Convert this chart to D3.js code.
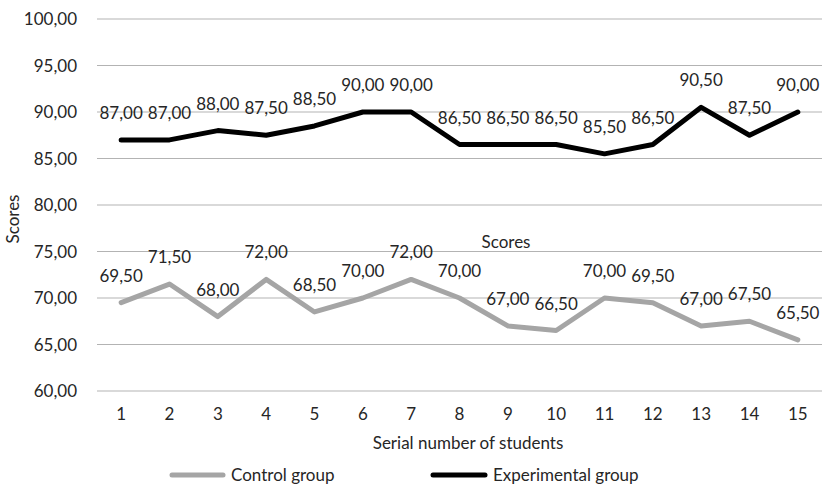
<!DOCTYPE html>
<html>
<head>
<meta charset="utf-8">
<script src="https://cdn.jsdelivr.net/npm/d3@7"></script>
<style>
  html, body { margin: 0; padding: 0; background: #fff; }
  svg text { font-family: Lato, "Open Sans", sans-serif; fill: #262626; }
</style>
</head>
<body>
<svg id="chart" width="828" height="485"></svg>
<script>
// Student serial numbers and score series
const students = ["1","2","3","4","5","6","7","8","9","10","11","12","13","14","15"];
const controlScores = [69.5, 71.5, 68, 72, 68.5, 70, 72, 70, 67, 66.5, 70, 69.5, 67, 67.5, 65.5];
const experimentalScores = [87, 87, 88, 87.5, 88.5, 90, 90, 86.5, 86.5, 86.5, 85.5, 86.5, 90.5, 87.5, 90];
const yTicks = [60, 65, 70, 75, 80, 85, 90, 95, 100];

const series = [
  { name: "Control group", values: controlScores, color: "#a5a5a5" },
  { name: "Experimental group", values: experimentalScores, color: "#000000" }
];

const svg = d3.select("#chart");
const margin = { left: 97, right: 6, top: 19, bottom: 94 };
const W = 828, H = 485;
const FS = "17px";

const x = d3.scaleBand().domain(students).range([margin.left, W - margin.right]);
const y = d3.scaleLinear().domain([60, 100]).range([H - margin.bottom, margin.top]);
const fmt = v => d3.format(".2f")(v).replace(".", ",");
const cx = d => x(d) + x.bandwidth() / 2;

// Horizontal gridlines
svg.append("g").selectAll("line").data(yTicks).join("line")
  .attr("x1", margin.left).attr("x2", W - margin.right)
  .attr("y1", d => y(d)).attr("y2", d => y(d))
  .attr("stroke", "#b3b3b3").attr("stroke-width", 1);

// Y axis labels
const yAxis = svg.append("g")
  .attr("transform", `translate(${margin.left - 20},0)`)
  .call(d3.axisLeft(y).tickValues(yTicks).tickFormat(fmt).tickSize(0).tickPadding(0));
yAxis.select(".domain").remove();
yAxis.selectAll("text").style("font-size", FS).attr("dy", "0.35em");

// X axis labels
const xAxis = svg.append("g")
  .attr("transform", `translate(0,${y(60)})`)
  .call(d3.axisBottom(x).tickSize(0).tickPadding(17));
xAxis.select(".domain").remove();
xAxis.selectAll("text").style("font-size", FS);

// Axis titles
svg.append("text")
  .attr("transform", `translate(19,219) rotate(-90)`)
  .attr("text-anchor", "middle").style("font-size", FS).text("Scores");
svg.append("text")
  .attr("x", 468).attr("y", 449)
  .attr("text-anchor", "middle").style("font-size", FS).text("Serial number of students");
svg.append("text")
  .attr("x", 506).attr("y", 248)
  .attr("text-anchor", "middle").style("font-size", FS).text("Scores");

// Lines
const line = d3.line().x((d, i) => cx(students[i])).y(d => y(d));
series.forEach(s => {
  svg.append("path")
    .datum(s.values)
    .attr("d", line)
    .attr("fill", "none")
    .attr("stroke", s.color)
    .attr("stroke-width", 5)
    .attr("stroke-linejoin", "round")
    .attr("stroke-linecap", "round");
});

// Data labels
series.forEach(s => {
  svg.append("g").selectAll("text").data(s.values).join("text")
    .attr("x", (d, i) => cx(students[i]))
    .attr("y", d => y(d) - 21)
    .attr("text-anchor", "middle")
    .style("font-size", FS)
    .text(d => fmt(d));
});

// Legend
const legendItems = [
  { s: series[0], x1: 172, x2: 223 },
  { s: series[1], x1: 433, x2: 485 }
];
legendItems.forEach(item => {
  svg.append("line")
    .attr("x1", item.x1).attr("x2", item.x2)
    .attr("y1", 475).attr("y2", 475)
    .attr("stroke", item.s.color).attr("stroke-width", 5)
    .attr("stroke-linecap", "round");
  svg.append("text")
    .attr("x", item.x2 + 8).attr("y", 481)
    .style("font-size", FS).text(item.s.name);
});
</script>
</body>
</html>
